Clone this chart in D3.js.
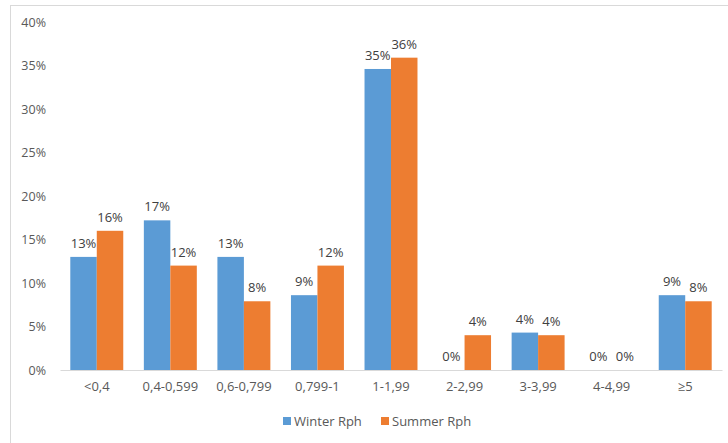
<!DOCTYPE html>
<html><head><meta charset="utf-8">
<script src="https://cdn.jsdelivr.net/npm/d3@7/dist/d3.min.js"></script>
<style>body{margin:0;background:#fff;}svg{display:block;font-family:"Open Sans",sans-serif;}</style>
</head><body>
<svg id="c" width="728" height="443"></svg>
<script>
const categories = ["<0,4","0,4-0,599","0,6-0,799","0,799-1","1-1,99","2-2,99","3-3,99","4-4,99","≥5"];
const winter = [13.0,17.2,13.0,8.6,34.6,0,4.3,0,8.6];
const summer = [16.0,12.0,7.9,12.0,35.9,4.0,4.0,0,7.9];
const seriesNames = ["Winter Rph","Summer Rph"];
const colors = ["#5b9bd5","#ed7d31"];
const yTicks = [0,5,10,15,20,25,30,35,40];

const svg = d3.select("#c");
const m = {left:60,right:6,top:22,bottom:73};
const W = 728, H = 443;
svg.append("rect").attr("x",10.5).attr("y",5.5).attr("width",730).attr("height",450)
  .attr("fill","#fff").attr("stroke","#d9d9d9");

const x = d3.scaleBand().domain(categories).range([m.left, W-m.right]).paddingInner(0.28).paddingOuter(0.14);
const xs = d3.scaleBand().domain(seriesNames).range([0, x.bandwidth()]);
const y = d3.scaleLinear().domain([0,40]).range([370,22]);

const yAxis = svg.append("g").attr("transform","translate(46,0)")
  .call(d3.axisLeft(y).tickValues(yTicks).tickFormat(d=>d+"%").tickSize(0).tickPadding(0));
yAxis.select(".domain").remove();
yAxis.selectAll("text").attr("fill","#595959").style("font-size","12.5px").style("font-family","Open Sans");

const data = categories.map((c,i)=>({c, vals:[winter[i],summer[i]]}));
const g = svg.append("g");
data.forEach(d=>{
  d.vals.forEach((v,j)=>{
    const bx = x(d.c)+xs(seriesNames[j]);
    g.append("rect").attr("x",bx).attr("y",y(v)).attr("width",xs.bandwidth()).attr("height",y(0)-y(v)).attr("fill",colors[j]);
    g.append("text").attr("x",bx+xs.bandwidth()/2).attr("y",y(v)-9).attr("text-anchor","middle")
      .attr("fill","#404040").style("font-size","13px").text(Math.round(v)+"%");
  });
});

const xAxis = svg.append("g").attr("transform","translate(0,370)")
  .call(d3.axisBottom(x).tickSize(0).tickPadding(12));
xAxis.select(".domain").attr("stroke","#d9d9d9");
xAxis.selectAll("text").attr("fill","#595959").style("font-size","13px").style("font-family","Open Sans");

const lg = svg.append("g");
const legX = [283, 381];
seriesNames.forEach((s,i)=>{
  lg.append("rect").attr("x",legX[i]).attr("y",417).attr("width",8).attr("height",8).attr("fill",colors[i]);
  lg.append("text").attr("x",legX[i]+11).attr("y",426).attr("fill","#595959").style("font-size","13px").text(s);
});
</script>
</body></html>
